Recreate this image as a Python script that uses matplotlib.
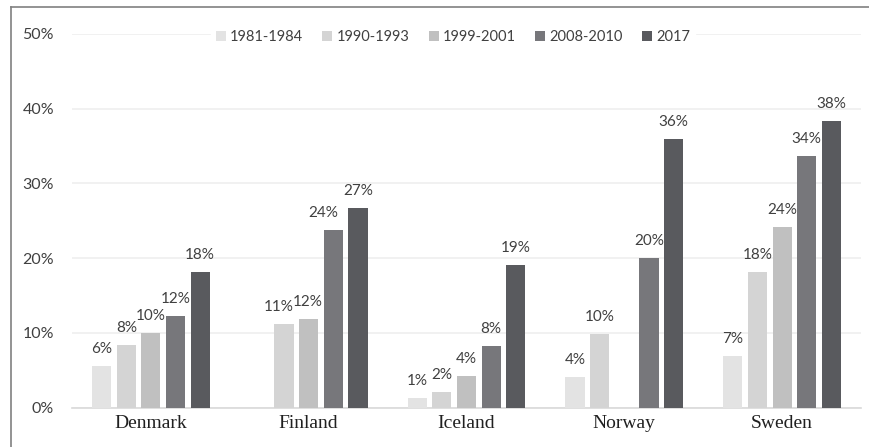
import numpy as np
import matplotlib
matplotlib.use("Agg")
import matplotlib.pyplot as plt
from matplotlib.lines import Line2D

countries = ["Denmark", "Finland", "Iceland", "Norway", "Sweden"]
periods = ["1981-1984", "1990-1993", "1999-2001", "2008-2010", "2017"]

# share (%) per period, one list per period, nan = no survey
v_1981 = [5.6, np.nan, 1.3, 4.1, 6.9]
v_1990 = [8.4, 11.2, 2.1, 9.8, 18.2]
v_1999 = [10.0, 11.9, 4.3, np.nan, 24.2]
v_2008 = [12.3, 23.8, 8.2, 20.0, 33.7]
v_2017 = [18.2, 26.7, 19.1, 35.9, 38.3]
series = [v_1981, v_1990, v_1999, v_2008, v_2017]

colors = ["#e3e3e3", "#d4d4d4", "#c0c0c0", "#77777b", "#595a5e"]
txt = "#404040"
num_font = "Lato"
cat_font = "Liberation Serif"

# label nudges (pixels) where the original shifts labels sideways
nudge = {("Finland", 1): -5, ("Finland", 2): -1, ("Finland", 3): -10}

fig = plt.figure(figsize=(8.7, 4.47), dpi=100)
ax = fig.add_axes([72 / 870, 39.3 / 447, 789 / 870, 374 / 447])

x = np.arange(len(countries))
pitch = 0.156
width = 0.1215

for i, (vals, col, lab) in enumerate(zip(series, colors, periods)):
    xs = x + (i - 2) * pitch
    ax.bar(xs, vals, width=width, color=col, label=lab, zorder=3)
    for j, v in enumerate(vals):
        if np.isnan(v):
            continue
        dx = nudge.get((countries[j], i), 0)
        ax.annotate(f"{round(v):d}%", (xs[j], v), xytext=(dx, 17),
                    textcoords="offset pixels", ha="center", va="center",
                    fontsize=11, color=txt, family=num_font, zorder=4)

ax.set_xlim(-0.5, 4.5)
ax.set_ylim(0, 50)
ax.set_yticks(np.arange(0, 51, 10))
ax.set_yticklabels([f"{t}%" for t in range(0, 51, 10)], family=num_font,
                   fontsize=11.5, color=txt)
ax.set_xticks(x)
ax.set_xticklabels(countries, family=cat_font, fontsize=14, color="#202020")
ax.tick_params(axis="both", length=0)
ax.tick_params(axis="y", pad=13)
ax.tick_params(axis="x", pad=5)

ax.yaxis.grid(True, color="#efefef", lw=1.2, zorder=0)
ax.set_axisbelow(True)
for s in ["top", "right", "left"]:
    ax.spines[s].set_visible(False)
ax.spines["bottom"].set_color("#d9d9d9")
ax.spines["bottom"].set_linewidth(1.2)

leg = ax.legend(loc="center", bbox_to_anchor=(0.483, 0.99), ncol=5,
                frameon=True, fancybox=False, edgecolor="white",
                facecolor="white", framealpha=1, handlelength=0.7,
                handleheight=0.7, handletextpad=0.3, columnspacing=1.3,
                borderpad=0.3, prop={"family": num_font, "size": 10.5})
for t in leg.get_texts():
    t.set_color(txt)

# outer frame (left and top only visible)
fig.add_artist(Line2D([11 / 870, 11 / 870], [0, 1 - 7 / 447],
                      transform=fig.transFigure, color="#808080", lw=1.2))
fig.add_artist(Line2D([11 / 870, 1], [1 - 7 / 447, 1 - 7 / 447],
                      transform=fig.transFigure, color="#808080", lw=1.2))

fig.savefig("out.png", dpi=100)
